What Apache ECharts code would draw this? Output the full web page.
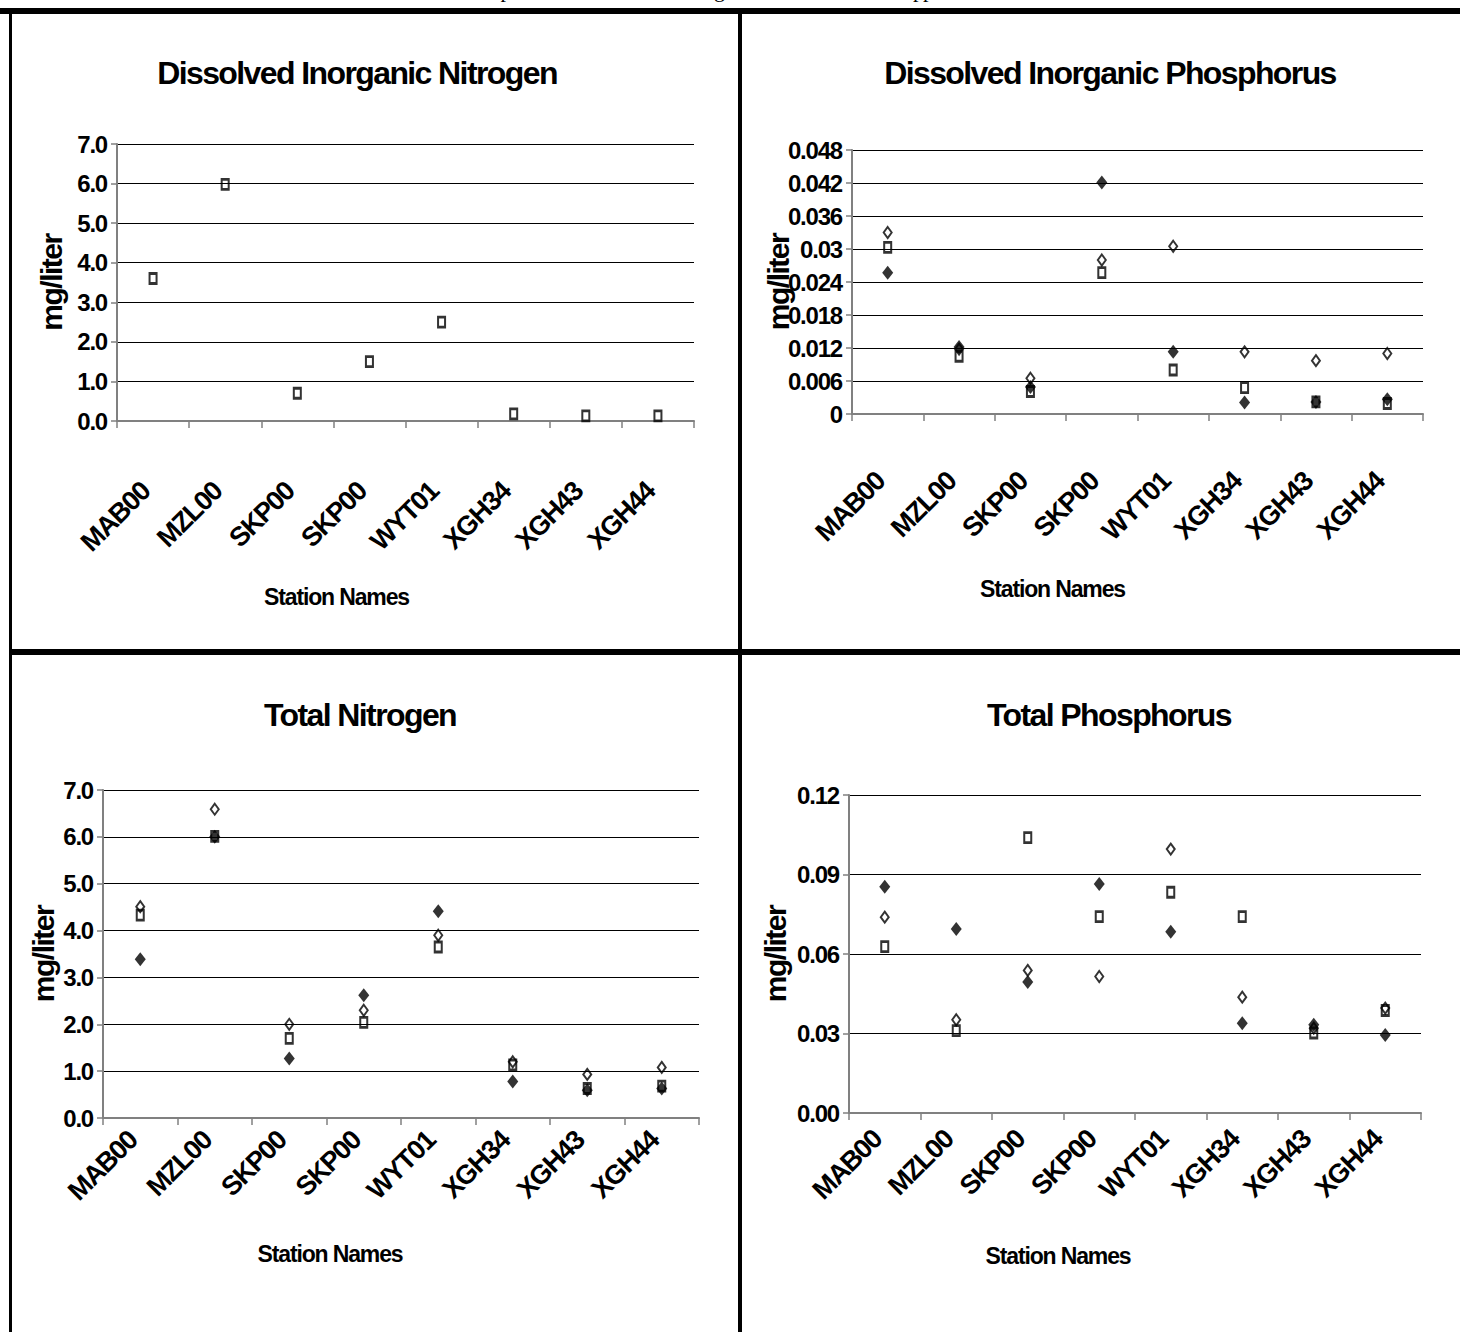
<!DOCTYPE html>
<html>
<head>
<meta charset="utf-8">
<script src="https://cdn.jsdelivr.net/npm/echarts@6/dist/echarts.min.js"></script>
<style>
html,body{margin:0;padding:0;background:#fff;}
#chart{width:1460px;height:1332px;}
#chart svg text{letter-spacing:-0.05em;}
</style>
</head>
<body>
<div id="chart"></div>
<script>
// ---- data ----
const stations = ["MAB00", "MZL00", "SKP00", "SKP00", "WYT01", "XGH34", "XGH43", "XGH44"];
const panelTitles = ["Dissolved Inorganic Nitrogen", "Dissolved Inorganic Phosphorus", "Total Nitrogen", "Total Phosphorus"];
const yAxisTitle = "mg/liter";
const xAxisTitle = "Station Names";
const captionText = "Comparison of total levels among the four stations in the upper watershed";

// Dissolved Inorganic Nitrogen (only the square series is visible)
const dinSquare = [3.60, 5.98, 0.70, 1.50, 2.50, 0.18, 0.13, 0.13];

// Dissolved Inorganic Phosphorus
const dipFilled = [0.0257, 0.0122, 0.0049, 0.0421, 0.0113, 0.0021, 0.0022, 0.0027];
const dipOpen   = [0.0330, 0.0118, 0.0065, 0.0280, 0.0305, 0.0113, 0.0097, 0.0110];
const dipSquare = [0.0303, 0.0105, 0.0041, 0.0257, 0.0080, 0.0048, 0.0022, 0.0019];

// Total Nitrogen
const tnFilled = [3.39, 6.00, 1.27, 2.62, 4.41, 0.78, 0.59, 0.63];
const tnOpen   = [4.51, 6.59, 2.00, 2.30, 3.90, 1.20, 0.93, 1.08];
const tnSquare = [4.33, 6.01, 1.70, 2.04, 3.65, 1.13, 0.63, 0.68];

// Total Phosphorus
const tpFilled = [0.0854, 0.0694, 0.0494, 0.0864, 0.0684, 0.0339, 0.0333, 0.0294];
const tpOpen   = [0.0739, 0.0352, 0.0538, 0.0515, 0.0996, 0.0437, 0.0320, 0.0396];
const tpSquare = [0.0628, 0.0311, 0.1039, 0.0741, 0.0833, 0.0741, 0.0302, 0.0387];

// y-axis ranges
const yMin = [0, 0, 0, 0];
const yMax = [7, 0.048, 7, 0.12];
const yStep = [1, 0.006, 1, 0.03];

const FONT = "'Liberation Sans', Arial, sans-serif";
const S = {title: 32, tick: 24, yname: 30, xname: 23, cat: 27};

// ---- layout ----
const grids = [
  {left: 117, top: 144, width: 577, height: 277},
  {left: 852, top: 150, width: 571, height: 264},
  {left: 103, top: 790, width: 596, height: 328},
  {left: 849, top: 795, width: 572, height: 318}
];
const titlePos = [[357, 73], [1110, 73], [360, 715], [1109, 715]];
const yNameGap = [51, 59, 45, 59];
const xNameGap = [164, 163, 124, 131];
const xNameShift = [69, 85, 71, 77];
const catMargin = [58, 55, 10, 14];
const fmt = [
  v => v.toFixed(1),
  v => parseFloat(v.toFixed(3)).toString(),
  v => v.toFixed(1),
  v => v.toFixed(2)
];

const grayAxis = '#808080';
const xAxes = [], yAxes = [];
grids.forEach((g, i) => {
  xAxes.push({
    gridIndex: i, type: 'category', data: stations, boundaryGap: true,
    axisLine: {show: true, lineStyle: {color: grayAxis, width: 2}},
    axisTick: {show: true, length: 7, lineStyle: {color: grayAxis, width: 1.5}, interval: 0},
    axisLabel: {interval: 0, rotate: 45, margin: catMargin[i], fontFamily: FONT, fontWeight: 'bold', fontSize: S.cat, color: '#000', padding: [0, 11, 0, 0]},
    splitLine: {show: false},
    name: xAxisTitle, nameLocation: 'middle', nameGap: xNameGap[i], nameMoveOverlap: false,
    nameTextStyle: {fontFamily: FONT, fontWeight: 'bold', fontSize: S.xname, color: '#000', padding: [0, xNameShift[i] * 2, 0, 0]}
  });
  yAxes.push({
    gridIndex: i, type: 'value', min: yMin[i], max: yMax[i], interval: yStep[i],
    axisLine: {show: true, lineStyle: {color: grayAxis, width: 2}},
    axisTick: {show: true, length: 6, lineStyle: {color: grayAxis, width: 1.5}},
    axisLabel: {margin: 10, fontFamily: FONT, fontWeight: 'bold', fontSize: S.tick, color: '#000', formatter: fmt[i]},
    splitLine: {show: true, lineStyle: {color: '#000', width: 1}},
    name: yAxisTitle, nameLocation: 'middle', nameRotate: 90, nameGap: yNameGap[i], nameMoveOverlap: false,
    nameTextStyle: {fontFamily: FONT, fontWeight: 'bold', fontSize: S.yname, color: '#000'}
  });
});

function sq(data, i) {
  return {type: 'scatter', xAxisIndex: i, yAxisIndex: i, data: data, symbol: 'rect', symbolSize: [7, 10],
    itemStyle: {color: 'rgba(255,255,255,0)', borderColor: '#000', borderWidth: 2.4}, z: 3};
}
function od(data, i) {
  return {type: 'scatter', xAxisIndex: i, yAxisIndex: i, data: data, symbol: 'diamond', symbolSize: [8, 11],
    itemStyle: {color: 'rgba(255,255,255,0)', borderColor: '#000', borderWidth: 2}, z: 4};
}
function fd(data, i) {
  return {type: 'scatter', xAxisIndex: i, yAxisIndex: i, data: data, symbol: 'diamond', symbolSize: [11, 14],
    itemStyle: {color: '#000', borderWidth: 0}, z: 5};
}

const series = [
  sq(dinSquare, 0),
  sq(dipSquare, 1), od(dipOpen, 1), fd(dipFilled, 1),
  sq(tnSquare, 2), od(tnOpen, 2), fd(tnFilled, 2),
  sq(tpSquare, 3), od(tpOpen, 3), fd(tpFilled, 3)
];

const graphics = [
  // frame
  {type: 'rect', shape: {x: 0, y: 8, width: 1460, height: 6}, style: {fill: '#000'}, silent: true},
  {type: 'rect', shape: {x: 9, y: 8, width: 3, height: 1324}, style: {fill: '#000'}, silent: true},
  {type: 'rect', shape: {x: 738, y: 8, width: 4, height: 1324}, style: {fill: '#000'}, silent: true},
  {type: 'rect', shape: {x: 9, y: 649, width: 1451, height: 6}, style: {fill: '#000'}, silent: true},
  // caption line of the page, mostly above the picture's top edge (as in the reference)
  {type: 'text', x: 461, y: 0, style: {text: captionText, font: "22px 'Liberation Serif', 'Times New Roman', serif", fill: '#000', textAlign: 'left', textVerticalAlign: 'bottom'}, silent: true}
];
panelTitles.forEach((t, i) => {
  graphics.push({type: 'text', x: titlePos[i][0], y: titlePos[i][1],
    style: {text: t, font: 'bold ' + S.title + 'px ' + FONT, fill: '#000', textAlign: 'center', textVerticalAlign: 'middle'}, silent: true});
});

const chart = echarts.init(document.getElementById('chart'), null, {renderer: 'svg'});
chart.setOption({
  backgroundColor: '#fff',
  animation: false,
  grid: grids.map(g => Object.assign({containLabel: false}, g)),
  xAxis: xAxes,
  yAxis: yAxes,
  series: series,
  graphic: graphics
});
</script>
</body>
</html>
